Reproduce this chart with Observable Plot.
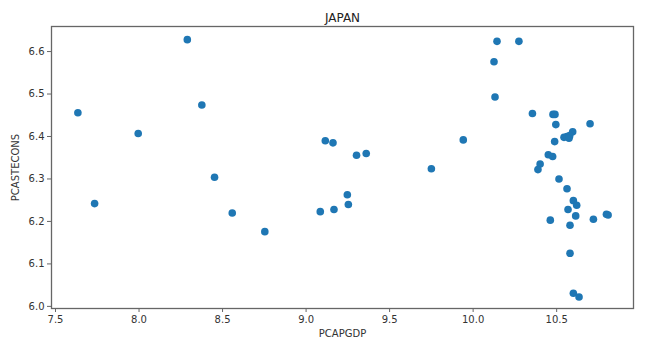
<!DOCTYPE html>
<html>
<head>
<meta charset="utf-8">
<script src="https://cdn.jsdelivr.net/npm/d3@7"></script>
<script src="https://cdn.jsdelivr.net/npm/@observablehq/plot@0.6"></script>
<style>
  html, body { margin: 0; padding: 0; background: #fff; }
  #chart svg { display: block; }
</style>
</head>
<body>
<div id="chart"></div>
<script>
const title = "JAPAN";
const xLabel = "PCAPGDP";
const yLabel = "PCASTECONS";
const xTicks = [7.5, 8.0, 8.5, 9.0, 9.5, 10.0, 10.5];
const yTicks = [6.0, 6.1, 6.2, 6.3, 6.4, 6.5, 6.6];

const pcapgdp = [
  7.634, 7.734, 7.995, 8.289, 8.376, 8.452, 8.558, 8.753, 9.085, 9.115,
  9.161, 9.167, 9.247, 9.253, 9.302, 9.360, 9.750, 9.941, 10.125, 10.131,
  10.143, 10.274, 10.355, 10.478, 10.490, 10.495, 10.700, 10.596, 10.544, 10.562,
  10.578, 10.574, 10.488, 10.450, 10.476, 10.401, 10.388, 10.514, 10.562, 10.600,
  10.620, 10.568, 10.614, 10.462, 10.720, 10.798, 10.808, 10.580, 10.580, 10.600,
  10.634
];
const pcastecons = [
  6.456, 6.242, 6.407, 6.628, 6.474, 6.304, 6.220, 6.176, 6.223, 6.390,
  6.385, 6.228, 6.263, 6.240, 6.356, 6.360, 6.324, 6.392, 6.576, 6.493,
  6.624, 6.624, 6.454, 6.452, 6.452, 6.428, 6.430, 6.411, 6.398, 6.400,
  6.402, 6.396, 6.388, 6.357, 6.353, 6.335, 6.322, 6.300, 6.277, 6.249,
  6.238, 6.228, 6.213, 6.203, 6.205, 6.217, 6.215, 6.191, 6.125, 6.031,
  6.022
];

const data = pcapgdp.map((x, i) => ({x, y: pcastecons[i]}));
const fmt1 = d => d.toFixed(1);

const chart = Plot.plot({
  width: 648,
  height: 349,
  marginTop: 26,
  marginLeft: 51,
  marginRight: 15,
  marginBottom: 41,
  style: {fontFamily: "'DejaVu Sans', sans-serif", fontSize: "10px", color: "#333", background: "#fff"},
  x: {domain: [7.476, 10.96]},
  y: {domain: [5.995, 6.659]},
  marks: [
    Plot.dot(data, {x: "x", y: "y", r: 3.8, fill: "#1f77b4", stroke: "none"}),
    Plot.frame({stroke: "#666", strokeWidth: 1.3}),
    Plot.axisX({ticks: xTicks, tickFormat: fmt1, tickSize: 4, tickPadding: 3, stroke: "#666",
      label: xLabel, labelAnchor: "center", labelArrow: "none", labelOffset: 28, fontSize: 10}),
    Plot.axisY({ticks: yTicks, tickFormat: fmt1, tickSize: 4, tickPadding: 3, stroke: "#666",
      label: yLabel, labelAnchor: "center", labelArrow: "none", labelOffset: 40, fontSize: 10}),
    Plot.text([title], {frameAnchor: "top", dy: -13, fontSize: 12, fill: "#222"})
  ]
});
document.getElementById("chart").appendChild(chart);
</script>
</body>
</html>
